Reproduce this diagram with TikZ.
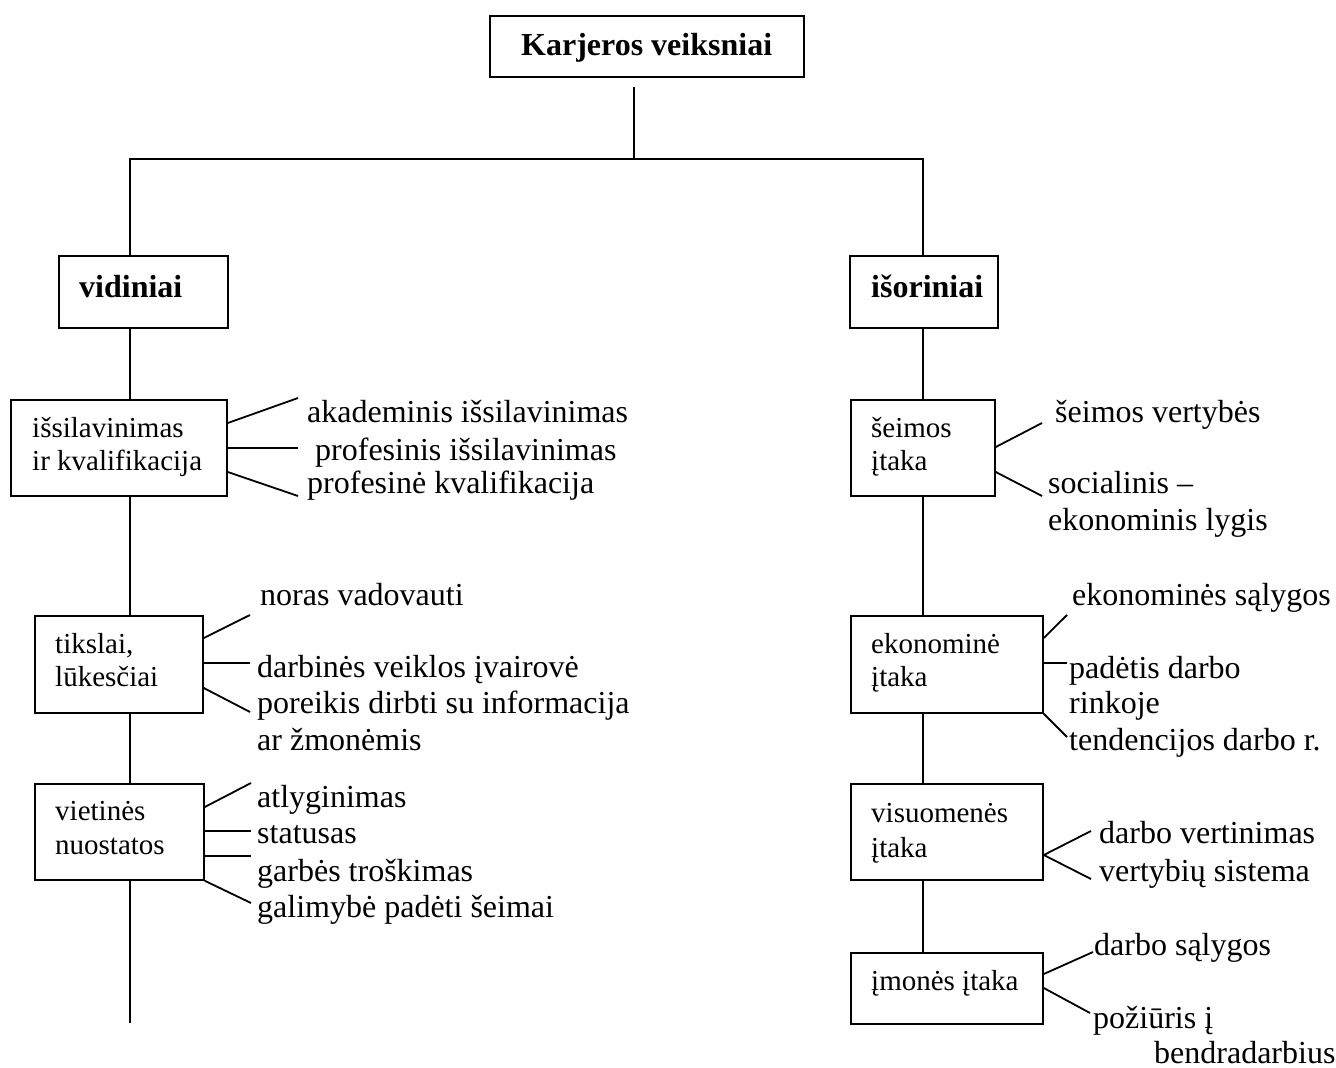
\documentclass[tikz,border=0pt]{standalone}
\usepackage{fontspec}
\setmainfont{Liberation Serif}
\usetikzlibrary{calc}
\begin{document}
\begin{tikzpicture}[x=1pt,y=-1pt,
  box/.style={draw, line width=1.8pt, inner sep=0pt, anchor=north west},
  conn/.style={line width=1.8pt},
  side/.style={inner sep=0pt, anchor=base west, font=\fontsize{32}{37}\selectfont},
  intxt/.style={inner sep=0pt, anchor=base west, font=\fontsize{29}{34}\selectfont},
  head/.style={inner sep=0pt, anchor=base west, font=\bfseries\fontsize{32}{37}\selectfont}]
\useasboundingbox (0,0) rectangle (1336,1068);

% ---------- top ----------
\node[box, minimum width=314pt, minimum height=61pt] (title) at (489,15) {};
\node[head] (titlet) at (521,55) {Karjeros veiksniai};
\coordinate (jt) at (634,87);
\coordinate (J) at (634,159);
\coordinate (L) at (130,159);
\coordinate (R) at (923,159);

\node[box, minimum width=169pt, minimum height=72pt] (vid) at (58,255) {};
\node[head] (vidt) at (79,297) {vidiniai};
\node[box, minimum width=148pt, minimum height=72pt] (isor) at (849,255) {};
\node[head] (isort) at (871,297) {išoriniai};

\draw[conn] (jt) -- (J);
\draw[conn] (vid.north -| L) -- (L) -- (R) -- (isor.north -| R);

% ---------- left column ----------
\node[box, minimum width=216pt, minimum height=96pt] (b1) at (10,399) {};
\node[intxt] (b1a) at (32,437) {išsilavinimas};
\node[intxt] (b1b) at (32,470) {ir kvalifikacija};

\node[box, minimum width=168pt, minimum height=97pt] (b2) at (34,615) {};
\node[intxt] (b2a) at (55,653) {tikslai,};
\node[intxt] (b2b) at (55,686) {lūkesčiai};

\node[box, minimum width=169pt, minimum height=96pt] (b3) at (34,783) {};
\node[intxt] (b3a) at (55,820) {vietinės};
\node[intxt] (b3b) at (55,854) {nuostatos};

\coordinate (Lend) at (130,1023);
\draw[conn] (vid.south -| L) -- (b1.north -| L);
\draw[conn] (b1.south -| L) -- (b2.north -| L);
\draw[conn] (b2.south -| L) -- (b3.north -| L);
\draw[conn] (b3.south -| L) -- (Lend);

% side texts b1
\node[side] (s11) at (307,422) {akademinis išsilavinimas};
\node[side] (s12) at (315,460) {profesinis išsilavinimas};
\node[side] (s13) at (307,493) {profesinė kvalifikacija};
\coordinate (e11) at (298,398);
\coordinate (e12) at (298,448);
\coordinate (e13) at (298,496);
\draw[conn] ([yshift=-24pt]b1.north east) -- (e11);
\draw[conn] ([yshift=-49pt]b1.north east) -- (e12);
\draw[conn] ([yshift=-73pt]b1.north east) -- (e13);

% side texts b2
\node[side] (s21) at (260,605) {noras vadovauti};
\node[side] (s22) at (257,677) {darbinės veiklos įvairovė};
\node[side] (s23) at (257,713) {poreikis dirbti su informacija};
\node[side] (s24) at (257,750) {ar žmonėmis};
\coordinate (e21) at (250,615);
\coordinate (e22) at (250,663);
\coordinate (e23) at (250,712);
\draw[conn] ([yshift=-23pt]b2.north east) -- (e21);
\draw[conn] ([yshift=-48pt]b2.north east) -- (e22);
\draw[conn] ([yshift=-73pt]b2.north east) -- (e23);

% side texts b3
\node[side] (s31) at (257,807) {atlyginimas};
\node[side] (s32) at (257,843) {statusas};
\node[side] (s33) at (257,881) {garbės troškimas};
\node[side] (s34) at (257,917) {galimybė padėti šeimai};
\coordinate (e31) at (251,783);
\coordinate (e32) at (251,831);
\coordinate (e33) at (251,856);
\coordinate (e34) at (251,903);
\draw[conn] ([yshift=-24pt]b3.north east) -- (e31);
\draw[conn] ([yshift=-48pt]b3.north east) -- (e32);
\draw[conn] ([yshift=-73pt]b3.north east) -- (e33);
\draw[conn] (b3.south east) -- (e34);

% ---------- right column ----------
\node[box, minimum width=144pt, minimum height=96pt] (b4) at (850,399) {};
\node[intxt] (b4a) at (871,437) {šeimos};
\node[intxt] (b4b) at (871,470) {įtaka};

\node[box, minimum width=192pt, minimum height=97pt] (b5) at (850,615) {};
\node[intxt] (b5a) at (871,653) {ekonominė};
\node[intxt] (b5b) at (871,686) {įtaka};

\node[box, minimum width=192pt, minimum height=96pt] (b6) at (850,783) {};
\node[intxt] (b6a) at (871,822) {visuomenės};
\node[intxt] (b6b) at (871,857) {įtaka};

\node[box, minimum width=192pt, minimum height=71pt] (b7) at (850,952) {};
\node[intxt] (b7a) at (871,990) {įmonės įtaka};

\draw[conn] (isor.south -| R) -- (b4.north -| R);
\draw[conn] (b4.south -| R) -- (b5.north -| R);
\draw[conn] (b5.south -| R) -- (b6.north -| R);
\draw[conn] (b6.south -| R) -- (b7.north -| R);

% side texts b4
\node[side] (s41) at (1055,422) {šeimos vertybės};
\node[side] (s42) at (1048,493) {socialinis –};
\node[side] (s43) at (1048,530) {ekonominis lygis};
\coordinate (e41) at (1042,423);
\coordinate (e42) at (1042,496);
\draw[conn] ([yshift=-48pt]b4.north east) -- (e41);
\draw[conn] ([yshift=-73pt]b4.north east) -- (e42);

% side texts b5
\node[side] (s51) at (1072,605) {ekonominės sąlygos};
\node[side] (s52) at (1069,678) {padėtis darbo};
\node[side] (s53) at (1069,713) {rinkoje};
\node[side] (s54) at (1069,750) {tendencijos darbo r.};
\coordinate (e51) at (1067,615);
\coordinate (e52) at (1067,663);
\coordinate (e53) at (1067,737);
\draw[conn] ([yshift=-23pt]b5.north east) -- (e51);
\draw[conn] ([yshift=-48pt]b5.north east) -- (e52);
\draw[conn] (b5.south east) -- (e53);

% side texts b6
\node[side] (s61) at (1099,843) {darbo vertinimas};
\node[side] (s62) at (1099,881) {vertybių sistema};
\coordinate (e61) at (1091,831);
\coordinate (e62) at (1091,879);
\draw[conn] (e61) -- ([yshift=-72pt]b6.north east) -- (e62);

% side texts b7
\node[side] (s71) at (1094,955) {darbo sąlygos};
\node[side] (s72) at (1093,1028) {požiūris į};
\node[side] (s73) at (1154,1063) {bendradarbius};
\coordinate (e71) at (1093,952);
\coordinate (e72) at (1090,1013);
\draw[conn] ([yshift=-22pt]b7.north east) -- (e71);
\draw[conn] ([yshift=-36pt]b7.north east) -- (e72);
\end{tikzpicture}
\end{document}
